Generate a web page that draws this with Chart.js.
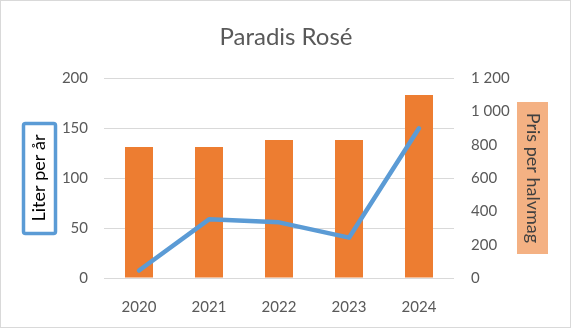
<!DOCTYPE html>
<html>
<head>
<meta charset="utf-8">
<script src="https://cdn.jsdelivr.net/npm/chart.js@4"></script>
<style>
  html, body { margin: 0; padding: 0; background: #fff; }
  #wrap { width: 572px; height: 328px; }
</style>
</head>
<body>
<div id="wrap"><canvas id="paradis" width="572" height="328"></canvas></div>
<script>
// Years along the x-axis
var years = ["2020", "2021", "2022", "2023", "2024"];
// Bars, left axis (liter per år)
var liter = [131, 131, 138, 138, 183];
// Line, right axis (pris per halvmag)
var pris = [45, 352, 334, 242, 898];

var textColor = "#595959";
var fontFamily = "Lato, 'Open Sans', sans-serif";

// boxes behind the axis titles, plus the outer frame
var boxes = {
  id: "boxes",
  beforeDraw: function (chart) {
    var c = chart.ctx;
    var area = chart.chartArea;
    var midY = (area.top + area.bottom) / 2;
    c.save();
    c.fillStyle = "#fff";
    c.fillRect(0, 0, chart.width, chart.height);
    c.strokeStyle = "#D9D9D9";
    c.lineWidth = 1;
    c.strokeRect(0.5, 0.5, chart.width - 2, chart.height - 1);
    // left title box
    c.fillStyle = "#fff";
    c.strokeStyle = "#5B9BD5";
    c.lineWidth = 3.5;
    c.beginPath();
    c.roundRect(23.5, midY - 54.5, 32, 110, 2);
    c.fill();
    c.stroke();
    // right title box
    c.fillStyle = "#F4B183";
    c.fillRect(517, midY - 76, 31, 152);
    c.restore();
  }
};

var ctx = document.getElementById("paradis");
var myChart = new Chart(ctx, {
  type: "bar",
  data: {
    labels: years,
    datasets: [
      {
        type: "line",
        data: pris,
        label: "Pris per halvmag",
        yAxisID: "y1",
        borderColor: "#5B9BD5",
        borderWidth: 4.5,
        borderCapStyle: "round",
        borderJoinStyle: "round",
        pointRadius: 0,
        tension: 0,
        fill: false,
        order: 0
      },
      {
        type: "bar",
        data: liter,
        label: "Liter per år",
        yAxisID: "y",
        backgroundColor: "#ED7D31",
        categoryPercentage: 1,
        barPercentage: 0.4,
        order: 1
      }
    ]
  },
  options: {
    responsive: false,
    animation: false,
    layout: { padding: 0 },
    plugins: {
      legend: { display: false },
      tooltip: { enabled: false },
      title: {
        display: true,
        text: "Paradis Rosé",
        color: textColor,
        font: { family: fontFamily, size: 24, weight: "normal" },
        padding: { top: 22.6, bottom: 26.6 }
      }
    },
    scales: {
      x: {
        grid: { display: false },
        border: { display: false },
        ticks: {
          color: textColor,
          font: { family: fontFamily, size: 15 },
          padding: 12
        },
        afterFit: function (s) { s.height = 50; }
      },
      y: {
        position: "left",
        min: 0,
        max: 200,
        ticks: {
          stepSize: 50,
          color: textColor,
          font: { family: fontFamily, size: 15 },
          padding: 16
        },
        grid: { color: "#D9D9D9", lineWidth: 1, drawTicks: false },
        border: { display: false },
        title: {
          display: true,
          text: "Liter per år",
          color: "#000",
          font: { family: fontFamily, size: 18 },
          padding: { top: 28, bottom: 0 }
        },
        afterFit: function (s) { s.width = 104; }
      },
      y1: {
        position: "right",
        min: 0,
        max: 1200,
        ticks: {
          stepSize: 200,
          color: textColor,
          font: { family: fontFamily, size: 15 },
          padding: 17,
          callback: function (v) {
            return v >= 1000 ? Math.floor(v / 1000) + " " + String(v % 1000).padStart(3, "0") : v;
          }
        },
        grid: { display: false, drawTicks: false },
        border: { display: false },
        title: {
          display: true,
          text: "Pris per halvmag",
          color: "#404040",
          font: { family: fontFamily, size: 18 },
          padding: { top: 28, bottom: 0 }
        },
        afterFit: function (s) { s.width = 118; }
      }
    }
  },
  plugins: [boxes]
});
</script>
</body>
</html>
